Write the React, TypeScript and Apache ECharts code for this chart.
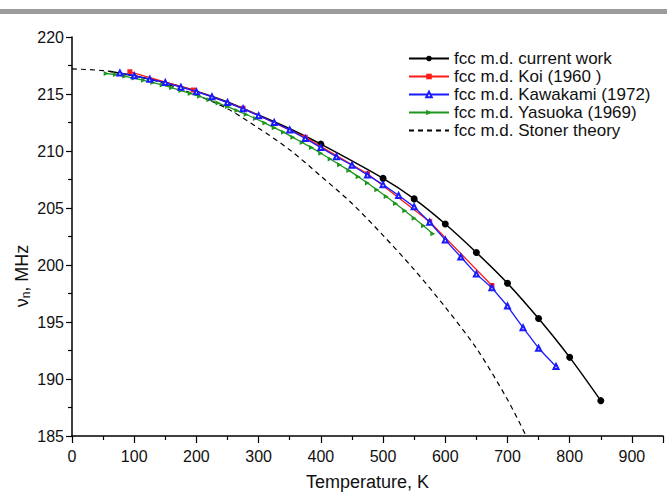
import React, { useEffect, useRef } from "react";
import * as echarts from "echarts";

// Temperature (K) / frequency (MHz)
const currentT = [60, 100, 150, 200, 250, 300, 350, 400, 500, 550, 600, 650, 700, 750, 800, 850];
const currentV = [217.0, 216.6, 216.0, 215.25, 214.3, 213.15, 211.95, 210.6, 207.6, 205.8, 203.6, 201.1, 198.4, 195.3, 191.9, 188.1];
const currentMarkedFrom = 400;

const koiT = [93, 195, 275, 375, 475, 575, 675];
const koiV = [216.95, 215.35, 213.75, 211.2, 208.0, 203.8, 198.2];

const kawakamiT = [77, 100, 125, 150, 175, 200, 225, 250, 275, 300, 325, 350, 375, 400, 425, 450, 475, 500, 525, 550, 575, 600, 625, 650, 675, 700, 725, 750, 778];
const kawakamiV = [216.85, 216.6, 216.3, 216.0, 215.6, 215.2, 214.75, 214.25, 213.7, 213.1, 212.5, 211.85, 211.1, 210.3, 209.5, 208.75, 207.9, 207.05, 206.1, 205.1, 203.75, 202.2, 200.7, 199.2, 198.0, 196.4, 194.5, 192.7, 191.1];

const yasuokaT = [55, 70, 85, 100, 115, 130, 145, 160, 175, 190, 205, 220, 235, 250, 265, 280, 295, 310, 325, 340, 355, 370, 385, 400, 415, 430, 445, 460, 475, 490, 505, 520, 535, 550, 565, 580];
const yasuokaV = [216.8, 216.7, 216.55, 216.4, 216.2, 216.0, 215.8, 215.55, 215.3, 215.05, 214.8, 214.5, 214.2, 213.9, 213.55, 213.2, 212.85, 212.45, 212.05, 211.65, 211.2, 210.75, 210.3, 209.8, 209.3, 208.8, 208.3, 207.75, 207.2, 206.6, 206.0, 205.4, 204.75, 204.1, 203.45, 202.75];

const stonerT = [0, 50, 100, 150, 200, 250, 300, 350, 400, 450, 500, 550, 600, 650, 700, 730];
const stonerV = [217.2, 217.05, 216.6, 215.9, 214.9, 213.7, 212.0, 210.1, 207.8, 205.4, 202.6, 199.6, 196.3, 192.7, 188.2, 185.0];

const seriesNames = [
  "fcc m.d. current work",
  "fcc m.d. Koi (1960 )",
  "fcc m.d. Kawakami (1972)",
  "fcc m.d. Yasuoka (1969)",
  "fcc m.d. Stoner theory",
];

const FONT = "'Liberation Sans', Arial, Helvetica, sans-serif";

const pairs = (t: number[], v: number[]) => t.map((x, i) => [x, v[i]]);

export default function App() {
  const ref = useRef<HTMLDivElement>(null);
  useEffect(() => {
    if (!ref.current) return;
    const chart = echarts.init(ref.current, undefined, { renderer: "svg" });
    const currentData = currentT.map((t, i) =>
      t >= currentMarkedFrom
        ? { value: [t, currentV[i]] }
        : { value: [t, currentV[i]], symbol: "none" }
    );
    chart.setOption({
      animation: false,
      backgroundColor: "#ffffff",
      textStyle: { fontFamily: FONT },
      grid: { left: 72, right: 4, top: 37, bottom: 50 },
      legend: {
        orient: "vertical",
        left: 408,
        top: 50,
        padding: 0,
        itemGap: 1,
        itemWidth: 40,
        itemHeight: 7,
        data: [
          seriesNames[0],
          seriesNames[1],
          seriesNames[2],
          seriesNames[3],
          { name: seriesNames[4], itemStyle: { opacity: 0 } },
        ],
        textStyle: { fontFamily: FONT, fontSize: 17, color: "#111", lineHeight: 17 },
      },
      xAxis: {
        type: "value",
        min: 0,
        max: 950,
        interval: 100,
        name: "Temperature, K",
        nameLocation: "middle",
        nameGap: 37,
        nameTextStyle: { fontFamily: FONT, fontSize: 18, color: "#111" },
        axisLine: { show: true, onZero: false, lineStyle: { color: "#000", width: 1.5 } },
        axisTick: { show: true, inside: false, length: 7, lineStyle: { color: "#000", width: 1.2 } },
        minorTick: { show: true, splitNumber: 2, length: 4, lineStyle: { color: "#000", width: 1.2 } },
        splitLine: { show: false },
        axisLabel: { fontFamily: FONT, fontSize: 16, color: "#111", margin: 12, showMaxLabel: false },
      },
      yAxis: {
        type: "value",
        min: 185,
        max: 220,
        interval: 5,
        axisLine: { show: true, onZero: false, lineStyle: { color: "#000", width: 1.5 } },
        axisTick: { show: true, inside: false, length: 6, lineStyle: { color: "#000", width: 1.2 } },
        minorTick: { show: true, splitNumber: 2, length: 4, lineStyle: { color: "#000", width: 1.2 } },
        splitLine: { show: false },
        axisLabel: { fontFamily: FONT, fontSize: 16, color: "#111", margin: 8 },
      },
      graphic: [
        { type: "rect", left: 0, top: 9, shape: { width: 667, height: 5 }, style: { fill: "#9c9c9c" } },
        {
          type: "text",
          x: 22,
          y: 276,
          rotation: Math.PI / 2,
          style: {
            text: "{v|ν}{s|n}{v|, MHz}",
            align: "center",
            verticalAlign: "middle",
            rich: {
              v: { fontFamily: FONT, fontSize: 18, fill: "#111", lineHeight: 20 },
              s: { fontFamily: FONT, fontSize: 12, fill: "#111", lineHeight: 20, padding: [8, 0, 0, 0] },
            },
          },
        },
      ],
      series: [
        {
          name: seriesNames[0],
          type: "line",
          z: 2,
          data: currentData,
          smooth: 0.3,
          symbol: "circle",
          symbolSize: 7,
          itemStyle: { color: "#000" },
          lineStyle: { color: "#000", width: 1.5 },
        },
        {
          name: seriesNames[1],
          type: "line",
          z: 3,
          data: pairs(koiT, koiV),
          symbol: "rect",
          symbolSize: 5,
          itemStyle: { color: "#ff1a1a" },
          lineStyle: { color: "#ff1a1a", width: 1.3 },
        },
        {
          name: seriesNames[2],
          type: "line",
          z: 5,
          data: pairs(kawakamiT, kawakamiV),
          symbol: "emptyTriangle",
          symbolSize: 5,
          itemStyle: { color: "#1a1aff", borderColor: "#1a1aff", borderWidth: 1.1 },
          lineStyle: { color: "#1a1aff", width: 1.3 },
        },
        {
          name: seriesNames[3],
          type: "line",
          z: 4,
          data: pairs(yasuokaT, yasuokaV),
          symbol: "triangle",
          symbolSize: 5,
          symbolRotate: -90,
          itemStyle: { color: "#1f961f" },
          lineStyle: { color: "#1f961f", width: 1.3 },
        },
        {
          name: seriesNames[4],
          type: "line",
          z: 1,
          data: pairs(stonerT, stonerV),
          smooth: 0.3,
          symbol: "none",
          itemStyle: { color: "#000" },
          lineStyle: { color: "#000", width: 1.2, type: [5, 4] },
        },
      ],
    });
    return () => chart.dispose();
  }, []);
  return (
    <div
      ref={ref}
      style={{ position: "absolute", left: 0, top: 0, width: 667, height: 496 }}
    />
  );
}
